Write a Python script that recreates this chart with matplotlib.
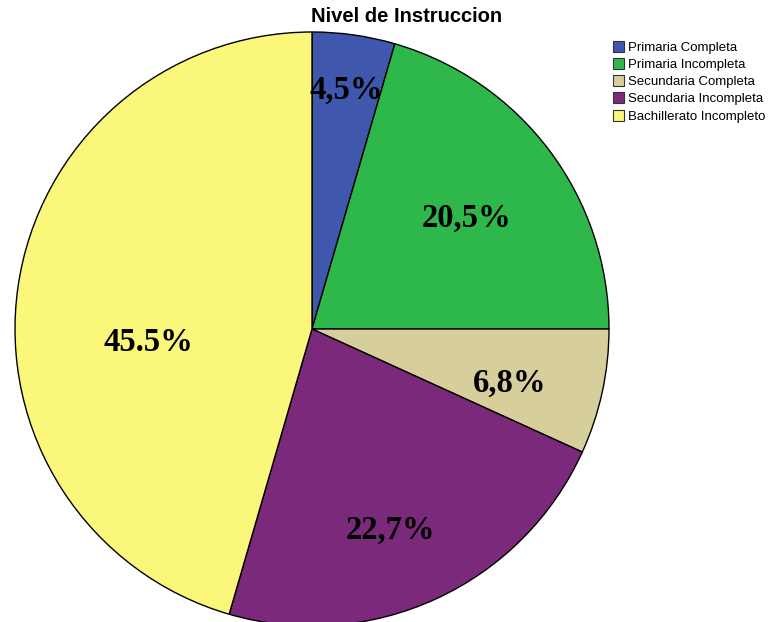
import matplotlib.pyplot as plt
from matplotlib.patches import Patch

categories = ['Primaria Completa', 'Primaria Incompleta', 'Secundaria Completa',
              'Secundaria Incompleta', 'Bachillerato Incompleto']
values = [4.5, 20.5, 6.8, 22.7, 45.5]
pct_labels = ['4,5%', '20,5%', '6,8%', '22,7%', '45.5%']
colors = ['#3f58ad', '#2eb84b', '#d6cf9b', '#7b2a7b', '#fbf77b']

# label anchor points (in pie radius units), as placed in the original
label_xy = [(0.114, 0.805), (0.519, 0.374), (0.667, -0.182),
            (0.263, -0.677), (-0.552, -0.044)]

fig = plt.figure(figsize=(7.71, 6.22), dpi=100)
ax = fig.add_axes([15 / 771, -4 / 622, 594 / 771, 594 / 622])

wedges, _ = ax.pie(values, colors=colors, startangle=90, counterclock=False,
                   radius=1, wedgeprops=dict(edgecolor='black', linewidth=1))

for (x, y), lab in zip(label_xy, pct_labels):
    ax.text(x, y, lab, ha='center', va='center',
            fontsize=23.5, fontweight='bold', family='Liberation Serif')

ax.set_xlim(-1, 1)
ax.set_ylim(-1, 1)
ax.set_aspect('equal')
ax.axis('off')

fig.text(407 / 771, 1 - 17 / 622, 'Nivel de Instruccion', ha='center', va='center',
         fontsize=14.5, fontweight='bold', family='Liberation Sans')

handles = [Patch(facecolor=c, edgecolor='#333333', linewidth=0.8) for c in colors]
fig.legend(handles, categories, loc='upper left', bbox_to_anchor=(606 / 771, 1 - 34 / 622),
           frameon=False, handlelength=0.9, handleheight=0.9,
           handletextpad=0.3, labelspacing=0.32, borderpad=0,
           prop={'family': 'Liberation Sans', 'size': 9.5})

fig.savefig('out.png', dpi=100)
